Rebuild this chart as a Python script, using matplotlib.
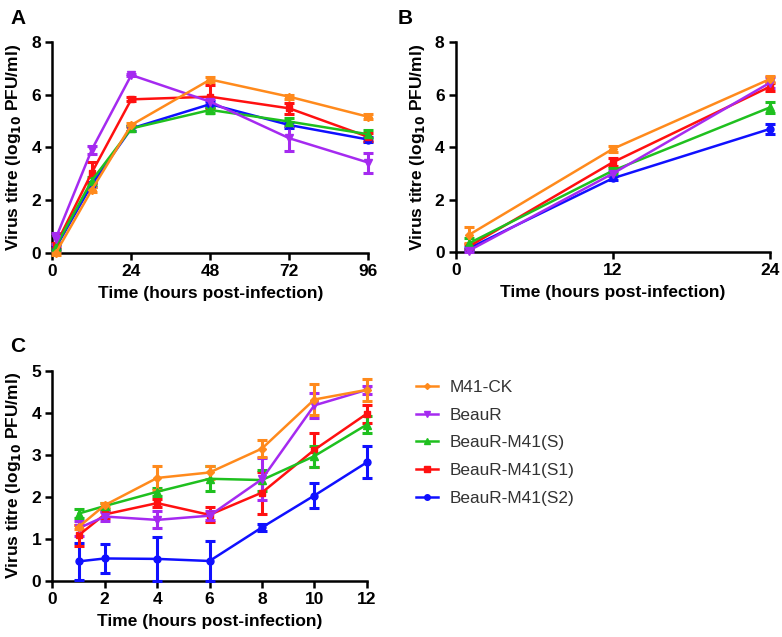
import matplotlib
matplotlib.use("Agg")
import matplotlib.pyplot as plt
from matplotlib.lines import Line2D

plt.rcParams['font.family'] = ['Liberation Sans', 'DejaVu Sans']

series_names = ["M41-CK", "BeauR", "BeauR-M41(S)", "BeauR-M41(S1)", "BeauR-M41(S2)"]
colors = ["#FF8A1C", "#A52AF0", "#1FC01F", "#FF1010", "#1010FF"]
markers = ["D", "v", "^", "s", "o"]
msizes = [4, 6, 6, 5, 5]

# Panel A
timeA = [1, 12, 24, 48, 72, 96]
A_vals = {
    "M41-CK":        [0.0, 2.4, 4.85, 6.57, 5.92, 5.16],
    "BeauR":         [0.55, 3.92, 6.74, 5.73, 4.35, 3.43],
    "BeauR-M41(S)":  [0.25, 2.75, 4.72, 5.42, 4.98, 4.5],
    "BeauR-M41(S1)": [0.3, 3.05, 5.82, 5.92, 5.48, 4.4],
    "BeauR-M41(S2)": [0.2, 2.6, 4.72, 5.64, 4.85, 4.3],
}
A_err = {
    "M41-CK":        [0.05, 0.1, 0.08, 0.08, 0.08, 0.1],
    "BeauR":         [0.2, 0.15, 0.05, 0.1, 0.47, 0.38],
    "BeauR-M41(S)":  [0.1, 0.15, 0.08, 0.1, 0.15, 0.15],
    "BeauR-M41(S1)": [0.1, 0.4, 0.08, 0.45, 0.22, 0.15],
    "BeauR-M41(S2)": [0.1, 0.1, 0.08, 0.1, 0.1, 0.1],
}

# Panel B
timeB = [1, 12, 24]
B_vals = {
    "M41-CK":        [0.66, 3.94, 6.6],
    "BeauR":         [0.06, 3.0, 6.46],
    "BeauR-M41(S)":  [0.34, 3.11, 5.52],
    "BeauR-M41(S1)": [0.22, 3.43, 6.31],
    "BeauR-M41(S2)": [0.15, 2.82, 4.7],
}
B_err = {
    "M41-CK":        [0.3, 0.12, 0.12],
    "BeauR":         [0.05, 0.1, 0.2],
    "BeauR-M41(S)":  [0.2, 0.1, 0.2],
    "BeauR-M41(S1)": [0.1, 0.15, 0.15],
    "BeauR-M41(S2)": [0.05, 0.08, 0.2],
}

# Panel C
timeC = [1, 2, 4, 6, 8, 10, 12]
C_vals = {
    "M41-CK":        [1.28, 1.8, 2.45, 2.58, 3.15, 4.32, 4.55],
    "BeauR":         [1.25, 1.53, 1.45, 1.55, 2.42, 4.18, 4.55],
    "BeauR-M41(S)":  [1.6, 1.78, 2.12, 2.43, 2.4, 2.97, 3.72],
    "BeauR-M41(S1)": [1.08, 1.58, 1.85, 1.57, 2.1, 3.12, 3.98],
    "BeauR-M41(S2)": [0.46, 0.53, 0.52, 0.47, 1.27, 2.03, 2.82],
}
C_err = {
    "M41-CK":        [0.05, 0.05, 0.28, 0.15, 0.2, 0.37, 0.27],
    "BeauR":         [0.18, 0.1, 0.2, 0.1, 0.5, 0.3, 0.1],
    "BeauR-M41(S)":  [0.1, 0.08, 0.1, 0.3, 0.25, 0.25, 0.2],
    "BeauR-M41(S1)": [0.25, 0.08, 0.1, 0.18, 0.5, 0.4, 0.22],
    "BeauR-M41(S2)": [0.45, 0.35, 0.53, 0.48, 0.08, 0.3, 0.38],
}

W, H = 782, 637
fig = plt.figure(figsize=(W / 100, H / 100), dpi=100)


def axes_px(l, r, t, b):
    return fig.add_axes([l / W, 1 - b / H, (r - l) / W, (b - t) / H])


axA = axes_px(52.3, 368.3, 41.7, 253.3)
axB = axes_px(455.7, 770, 42.3, 252.3)
axC = axes_px(52.3, 366.7, 371, 580.7)

draw_order = ["BeauR-M41(S2)", "BeauR-M41(S1)", "BeauR-M41(S)", "BeauR", "M41-CK"]


def draw(ax, t, vals, errs):
    for name in draw_order:
        i = series_names.index(name)
        ax.errorbar(t, vals[name], yerr=errs[name], color=colors[i], marker=markers[i],
                    markersize=msizes[i], linewidth=1.8, elinewidth=2.2, capsize=3.5,
                    capthick=2.2, clip_on=False, zorder=3)


def style(ax, xlim, xticks, ylim, yticks):
    ax.set_xlim(*xlim)
    ax.set_ylim(*ylim)
    ax.set_xticks(xticks)
    ax.set_yticks(yticks)
    for s in ["top", "right"]:
        ax.spines[s].set_visible(False)
    for s in ["left", "bottom"]:
        ax.spines[s].set_linewidth(1.8)
    ax.tick_params(direction="out", length=5, width=1.8, labelsize=12.5, pad=3)
    for lab in ax.get_xticklabels() + ax.get_yticklabels():
        lab.set_fontweight("bold")
    ax.set_xlabel("Time (hours post-infection)", fontsize=12.5, fontweight="bold", labelpad=5)
    ax.set_ylabel("Virus titre (log$_{\\mathbf{10}}$ PFU/ml)", fontsize=12.5,
                  fontweight="bold", labelpad=6)


draw(axA, timeA, A_vals, A_err)
style(axA, (0, 96), [0, 24, 48, 72, 96], (0, 8), [0, 2, 4, 6, 8])
draw(axB, timeB, B_vals, B_err)
style(axB, (0, 24), [0, 12, 24], (0, 8), [0, 2, 4, 6, 8])
draw(axC, timeC, C_vals, C_err)
style(axC, (0, 12), [0, 2, 4, 6, 8, 10, 12], (0, 5), [0, 1, 2, 3, 4, 5])

fig.text(10 / W, 1 - 18 / H, "A", fontsize=15, fontweight="bold", va="center")
fig.text(398 / W, 1 - 18 / H, "B", fontsize=15, fontweight="bold", va="center")
fig.text(10 / W, 1 - 347 / H, "C", fontsize=15, fontweight="bold", va="center")

handles = [Line2D([0], [0], color=colors[i], marker=markers[i], markersize=msizes[i] - 1,
                  linewidth=1.8) for i in range(len(series_names))]
fig.legend(handles, series_names, loc="upper left",
           bbox_to_anchor=(400 / W, 1 - 364.5 / H), frameon=False, fontsize=12.4,
           handlelength=1.28, handletextpad=0.7, labelspacing=0.73, labelcolor="#333333")

fig.savefig("out.png", dpi=100)
